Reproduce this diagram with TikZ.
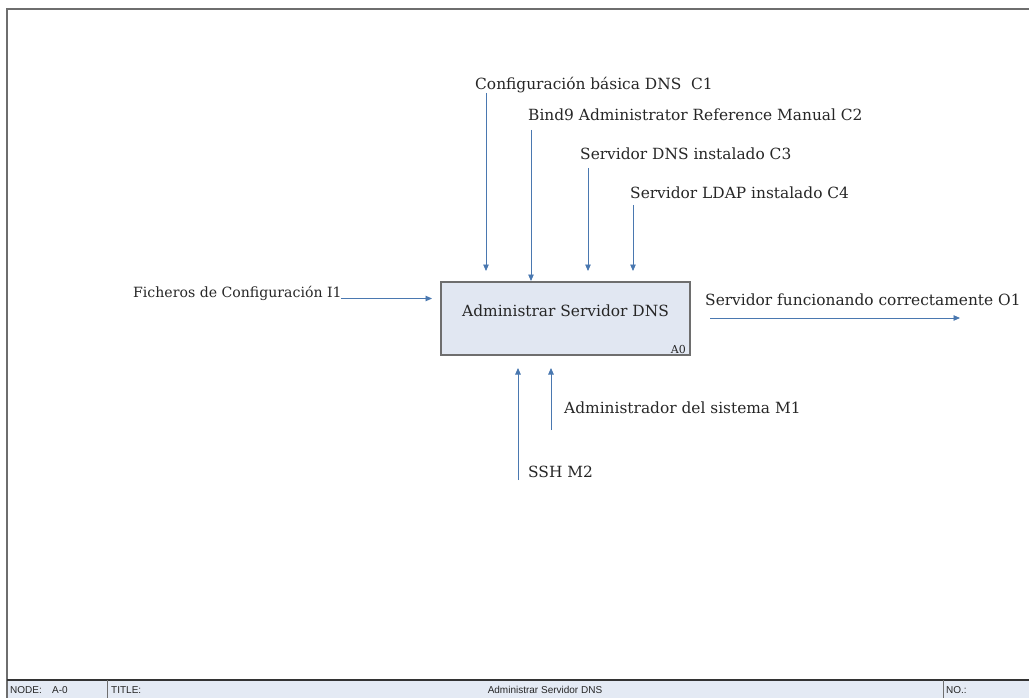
\documentclass[tikz,border=0pt]{standalone}
\usepackage{fontspec}
\setmainfont{DejaVu Serif}
\newfontfamily\barfont{Liberation Sans}
\usetikzlibrary{arrows.meta}
\definecolor{arrowblue}{HTML}{4A78B0}
\definecolor{boxfill}{HTML}{E1E7F2}
\definecolor{boxline}{HTML}{6E6E6E}
\definecolor{barfill}{HTML}{E4EAF4}
\definecolor{txt}{HTML}{262626}
\begin{document}
\begin{tikzpicture}[x=1pt,y=-1pt,
  flow/.style={draw=arrowblue, line width=0.9pt, -{Triangle[length=6.5pt,width=5.5pt]}},
  lbl/.style={anchor=base west, inner sep=0pt, font=\fontsize{15.4}{17}\selectfont, text=txt},
  barlbl/.style={anchor=base west, inner sep=0pt, font=\barfont\fontsize{10}{11}\selectfont, text=txt},
  activity/.style={draw=boxline, fill=boxfill, line width=2pt, minimum width=249pt, minimum height=73pt, inner sep=0pt}]
\useasboundingbox (0,0) rectangle (1029,698);
% frame
\fill[barfill] (7,681) rectangle (1029,698);
\draw[boxline, line width=2pt] (7,698) -- (7,9) -- (1029,9);
\draw[black!80, line width=1.2pt] (7,680) -- (1029,680);
\draw[boxline, line width=1pt] (107,680) -- (107,698);
\draw[boxline, line width=1pt] (943,680) -- (943,698);
\node[barlbl] (nodelbl) at (10,693) {NODE:};
\node[barlbl] (nodeval) at (52,693) {A-0};
\node[barlbl] (titlelbl) at (111,693) {TITLE:};
\node[barlbl, anchor=base] (titleval) at (545,693) {Administrar Servidor DNS};
\node[barlbl] (nolbl) at (946,693) {NO.:};
% activity box
\node[activity] (A0) at (565.5,318.5) {};
\node[lbl, anchor=base] (A0t) at (565.5,316) {Administrar Servidor DNS};
\node[anchor=south east, inner sep=0pt, font=\fontsize{11}{12}\selectfont, text=txt] (A0n) at (686,354) {A0};
% controls
\node[lbl] (C1) at (475,90) {Configuración básica DNS\ \ C1};
\node[lbl] (C2) at (528,121) {Bind9 Administrator Reference Manual C2};
\node[lbl] (C3) at (580,160) {Servidor DNS instalado C3};
\node[lbl] (C4) at (630,199) {Servidor LDAP instalado C4};
\coordinate (c1a) at (486,93);
\coordinate (c2a) at (531,130);
\coordinate (c3a) at (588,168);
\coordinate (c4a) at (633,205);
\draw[flow, shorten >=10pt] (c1a) -- (c1a |- A0.north);
\draw[flow] (c2a) -- (c2a |- A0.north);
\draw[flow, shorten >=10pt] (c3a) -- (c3a |- A0.north);
\draw[flow, shorten >=10pt] (c4a) -- (c4a |- A0.north);
% input
\node[lbl, font=\fontsize{14.1}{17}\selectfont] (I1) at (133,297) {Ficheros de Configuración I1};
\coordinate (i1a) at (341,298.5);
\draw[flow, shorten >=8pt] (i1a) -- (i1a -| A0.west);
% output
\node[lbl] (O1) at (705,305) {Servidor funcionando correctamente O1};
\coordinate (o1a) at (710,318);
\coordinate (o1b) at (960,318);
\draw[flow] (o1a) -- (o1b);
% mechanisms
\node[lbl] (M1) at (564,413) {Administrador del sistema M1};
\node[lbl] (M2) at (528,477) {SSH M2};
\coordinate (m1a) at (551,430);
\coordinate (m2a) at (518,480);
\draw[flow, shorten >=12pt] (m1a) -- (m1a |- A0.south);
\draw[flow, shorten >=12pt] (m2a) -- (m2a |- A0.south);
\end{tikzpicture}
\end{document}
